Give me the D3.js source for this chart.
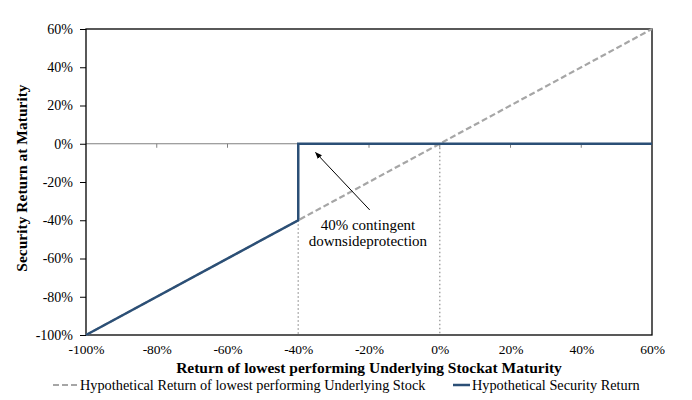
<!DOCTYPE html>
<html>
<head>
<meta charset="utf-8">
<script src="https://cdn.jsdelivr.net/npm/d3@7"></script>
<style>
  body { margin: 0; background: #fff; }
  text { font-family: "Liberation Serif", "DejaVu Serif", serif; fill: #000; }
</style>
</head>
<body>
<div id="chart"></div>
<script>
// chart data
var xTicks = [-100, -80, -60, -40, -20, 0, 20, 40, 60];
var yTicks = [-100, -80, -60, -40, -20, 0, 20, 40, 60];
var stockX = [-100, 60];
var stockY = [-100, 60];
var securityX = [-100, -40, -40, 60];
var securityY = [-100, -40, 0, 0];
var guideX = [-40, 0];
var guideTop = [-40, 0];
var legendLabels = ["Hypothetical Return of lowest performing Underlying Stock", "Hypothetical Security Return"];

var width = 692, height = 400;
var navy = "#2b4f76", grey = "#a6a6a6";
var serif = '"Liberation Serif", serif';

function createSVG(parent, h, w) {
  return d3.select(parent)
    .append('svg')
    .attr('height', h)
    .attr('width', w);
}

var svg = createSVG('#chart', height, width);

var x = d3.scaleLinear().domain([-100, 60]).range([86, 652]);
var y = d3.scaleLinear().domain([-100, 60]).range([335, 29]);
var fmt = function(d) { return d + '%'; };

// y axis ticks + labels
var yAxis = svg.append('g').attr('transform', 'translate(' + x(-100) + ',0)')
  .call(d3.axisLeft(y).tickValues(yTicks).tickFormat(fmt).tickSize(6).tickPadding(7));
yAxis.attr('font-family', null).attr('font-size', null);
yAxis.select('.domain').remove();
yAxis.selectAll('line').attr('stroke', '#000');
yAxis.selectAll('text').style('font-size', '14px').style('font-family', serif);

// x axis labels along bottom
var xAxis = svg.append('g').attr('transform', 'translate(0,' + y(-100) + ')')
  .call(d3.axisBottom(x).tickValues(xTicks).tickFormat(fmt).tickSize(0).tickPadding(9));
xAxis.attr('font-family', null).attr('font-size', null);
xAxis.select('.domain').remove();
xAxis.selectAll('text').style('font-size', '13.5px').style('font-family', serif);

// zero line with small ticks
svg.append('line')
  .attr('x1', x(-100)).attr('x2', x(60))
  .attr('y1', y(0)).attr('y2', y(0))
  .attr('stroke', '#808080').attr('stroke-width', 1);
svg.selectAll('.zt').data(xTicks.slice(1, -1)).enter().append('line')
  .attr('x1', function(d) { return x(d); }).attr('x2', function(d) { return x(d); })
  .attr('y1', y(0)).attr('y2', y(0) + 4)
  .attr('stroke', '#808080');

// dotted guides
svg.selectAll('.guide').data(guideX).enter().append('line')
  .attr('x1', function(d) { return x(d); }).attr('x2', function(d) { return x(d); })
  .attr('y1', function(d, i) { return y(guideTop[i]); }).attr('y2', y(-100))
  .attr('stroke', '#a6a6a6').attr('stroke-width', 1.5).attr('stroke-dasharray', '1.5,2.5');

// plot frame
svg.append('rect')
  .attr('x', x(-100)).attr('y', y(60))
  .attr('width', x(60) - x(-100)).attr('height', y(-100) - y(60))
  .attr('fill', 'none').attr('stroke', '#000').attr('stroke-width', 1.3);

var line = d3.line()
  .x(function(d) { return x(d[0]); })
  .y(function(d) { return y(d[1]); });

svg.append('path')
  .datum(d3.zip(stockX, stockY))
  .attr('d', line)
  .attr('fill', 'none').attr('stroke', grey).attr('stroke-width', 2.2)
  .attr('stroke-dasharray', '6,3');

svg.append('path')
  .datum(d3.zip(securityX, securityY))
  .attr('d', line)
  .attr('fill', 'none').attr('stroke', navy).attr('stroke-width', 2.5);

// annotation
svg.append('defs').append('marker')
  .attr('id', 'arrow').attr('viewBox', '0 0 10 10')
  .attr('refX', 9).attr('refY', 5)
  .attr('markerWidth', 7).attr('markerHeight', 7)
  .attr('orient', 'auto')
  .append('path').attr('d', 'M0,1 L10,5 L0,9 z').attr('fill', '#000');

svg.append('line')
  .attr('x1', x(-19.8)).attr('y1', y(-34.6))
  .attr('x2', x(-35.1)).attr('y2', y(-4.6))
  .attr('stroke', '#000').attr('stroke-width', 1)
  .attr('marker-end', 'url(#arrow)');

var note = svg.append('text')
  .attr('text-anchor', 'middle')
  .style('font-size', '15px');
note.append('tspan').attr('x', x(-20.3)).attr('y', y(-42.5) + 5).text('40% contingent');
note.append('tspan').attr('x', x(-20.3)).attr('y', y(-42.5) + 21).text('downsideprotection');

// axis titles
svg.append('text')
  .attr('x', 369).attr('y', 373)
  .attr('text-anchor', 'middle')
  .style('font-size', '15.5px').style('font-weight', 'bold')
  .text('Return of lowest performing Underlying Stockat Maturity');

svg.append('text')
  .attr('transform', 'translate(27,178) rotate(-90)')
  .attr('text-anchor', 'middle')
  .style('font-size', '15.5px').style('font-weight', 'bold')
  .text('Security Return at Maturity');

// legend
var legend = svg.append('g').attr('transform', 'translate(0,385)');
legend.append('line')
  .attr('x1', 53).attr('x2', 78).attr('y1', 0).attr('y2', 0)
  .attr('stroke', grey).attr('stroke-width', 2).attr('stroke-dasharray', '6,3');
legend.append('text')
  .attr('x', 80).attr('y', 4.5)
  .style('font-size', '14.3px')
  .text(legendLabels[0]);
legend.append('line')
  .attr('x1', 453).attr('x2', 470).attr('y1', 0).attr('y2', 0)
  .attr('stroke', navy).attr('stroke-width', 2.5);
legend.append('text')
  .attr('x', 472).attr('y', 4.5)
  .style('font-size', '14.3px')
  .text(legendLabels[1]);
</script>
</body>
</html>
